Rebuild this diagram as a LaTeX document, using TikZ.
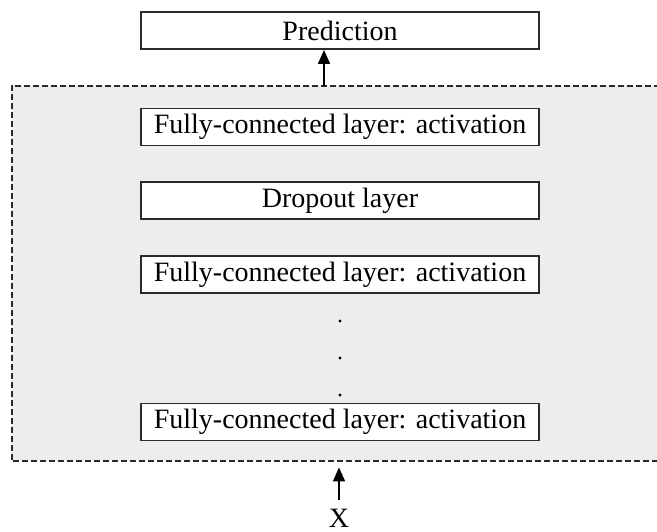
\documentclass[tikz,border=0pt]{standalone}
\usepackage{fontspec}
\setmainfont{Liberation Serif}
\usetikzlibrary{arrows.meta}
\definecolor{panelgray}{HTML}{EDEDED}
\definecolor{edgegray}{HTML}{2A2A2A}
\begin{document}
\begin{tikzpicture}[x=0.5pt,y=-0.5pt,
  layerbox/.style={draw=edgegray, line width=0.9pt, fill=white,
    minimum width=199pt, minimum height=18.5pt, inner sep=0pt,
    font=\fontsize{14}{16}\selectfont},
  panel/.style={fill=panelgray, minimum width=360pt, minimum height=187.5pt, inner sep=0pt},
  panelline/.style={draw=edgegray, line width=1pt, dash pattern=on 3pt off 1.5pt},
  flow/.style={line width=0.8pt, -{Triangle[length=7pt,width=6pt]}},
  ellipsisdot/.style={circle, fill=black, inner sep=0pt, minimum size=1.6pt}
]
\useasboundingbox (0,0) rectangle (657,531);

% grey panel holding the stacked layers; it runs on past the right edge,
% so only its top, left and bottom sides are outlined
\node[panel] (frame) at (372,273.5) {};
\draw[panelline] (frame.north east) -- (frame.north west)
  -- (frame.south west) -- (frame.south east);

% output box
\node[layerbox] (pred) at (340,30.5) {Prediction};

% stacked layers
\node[layerbox] (fc1) at (340,127) {Fully-connected layer: activation};
\node[layerbox] (drop) at (340,200.5) {Dropout layer};
\node[layerbox] (fc2) at (340,274.5) {Fully-connected layer: activation};
\node[ellipsisdot] (d1) at (340,321) {};
\node[ellipsisdot] (d2) at (340,358) {};
\node[ellipsisdot] (d3) at (340,395) {};
\node[layerbox] (fc3) at (340,422) {Fully-connected layer: activation};

% input label
\node[font=\fontsize{14}{16}\selectfont, inner sep=0pt] (x) at (339,518) {X};

% connectors
\coordinate (out) at (324,86);
\draw[flow] (out) -- (pred.south -| out);
\coordinate (in) at (339,500);
\draw[flow] (in) -- ([yshift=-3pt]in |- frame.south);
\end{tikzpicture}
\end{document}
